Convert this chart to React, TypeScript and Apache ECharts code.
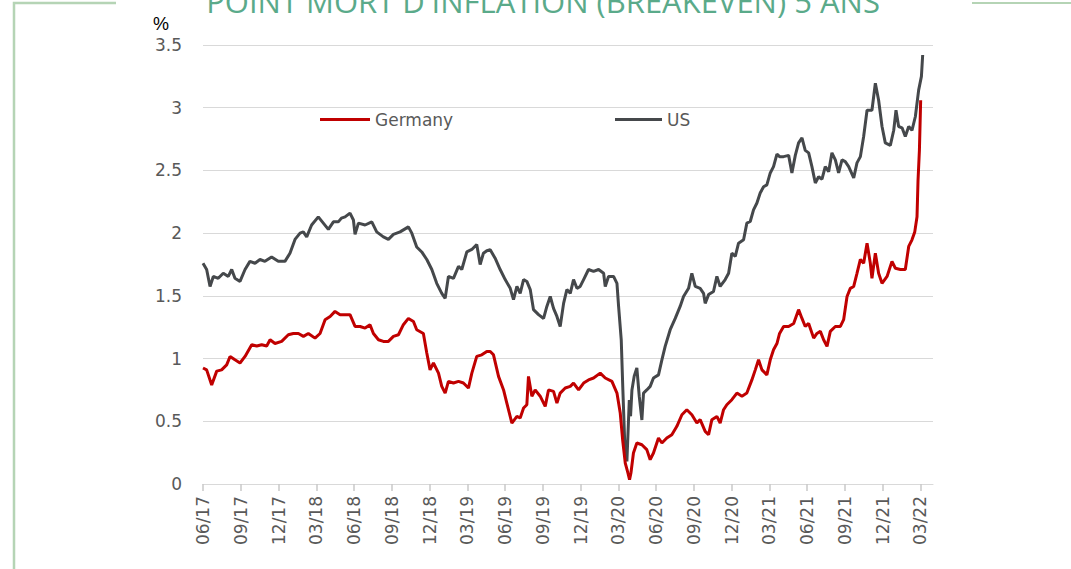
import React, { useEffect, useRef } from "react";
import * as echarts from "echarts";

const titleText = "POINT MORT D'INFLATION (BREAKEVEN) 5 ANS";
const unitLabel = "%";
const seriesNames = ["Germany", "US"];

// x = months since June 2017
const tickLabels = [
  "06/17", "09/17", "12/17", "03/18", "06/18", "09/18", "12/18",
  "03/19", "06/19", "09/19", "12/19", "03/20", "06/20", "09/20",
  "12/20", "03/21", "06/21", "09/21", "12/21", "03/22",
];
const tickMonths = [0, 3, 6, 9, 12, 15, 18, 21, 24, 27, 30, 33, 36, 39, 42, 45, 48, 51, 54, 57];

const usValues: [number, number][] = [
  [0.0, 1.76], [0.29, 1.71], [0.56, 1.575], [0.82, 1.655], [1.21, 1.64], [1.61, 1.68],
  [2.01, 1.655], [2.28, 1.71], [2.54, 1.64], [2.94, 1.615], [3.34, 1.71], [3.73, 1.775],
  [4.13, 1.76], [4.53, 1.79], [4.92, 1.775], [5.45, 1.81], [5.98, 1.775], [6.51, 1.775],
  [6.91, 1.84], [7.31, 1.95], [7.71, 2.0], [7.97, 2.01], [8.24, 1.97], [8.63, 2.065],
  [9.16, 2.13], [9.56, 2.08], [9.96, 2.03], [10.36, 2.09], [10.75, 2.09], [11.0, 2.12],
  [11.29, 2.13], [11.68, 2.16], [11.95, 2.105], [12.08, 1.99], [12.35, 2.08], [12.88, 2.065],
  [13.41, 2.09], [13.8, 2.01], [14.33, 1.97], [14.73, 1.95], [15.13, 1.99], [15.66, 2.01],
  [16.32, 2.05], [16.59, 2.0], [16.98, 1.89], [17.38, 1.85], [17.78, 1.79], [18.18, 1.71],
  [18.57, 1.6], [18.97, 1.52], [19.24, 1.48], [19.5, 1.655], [19.9, 1.64], [20.3, 1.735],
  [20.56, 1.71], [20.96, 1.85], [21.36, 1.87], [21.75, 1.91], [22.02, 1.75], [22.28, 1.84],
  [22.55, 1.86], [22.82, 1.867], [23.21, 1.8], [23.61, 1.71], [24.01, 1.63], [24.41, 1.56],
  [24.67, 1.47], [24.94, 1.575], [25.2, 1.52], [25.47, 1.63], [25.73, 1.615], [26.0, 1.55],
  [26.26, 1.39], [26.66, 1.35], [27.06, 1.32], [27.32, 1.416], [27.59, 1.495], [27.85, 1.4],
  [28.12, 1.336], [28.38, 1.256], [28.65, 1.44], [28.91, 1.55], [29.18, 1.52], [29.44, 1.63],
  [29.71, 1.56], [29.97, 1.575], [30.24, 1.63], [30.63, 1.71], [31.03, 1.695], [31.43, 1.71],
  [31.83, 1.68], [31.96, 1.575], [32.22, 1.655], [32.62, 1.655], [32.89, 1.6], [33.02, 1.416],
  [33.23, 1.15], [33.36, 0.75], [33.5, 0.35], [33.68, 0.18], [33.87, 0.67], [33.97, 0.54],
  [34.08, 0.75], [34.26, 0.86], [34.47, 0.925], [34.66, 0.7], [34.87, 0.51], [35.0, 0.725],
  [35.26, 0.75], [35.53, 0.778], [35.79, 0.845], [36.19, 0.87], [36.46, 0.99], [36.72, 1.097],
  [37.12, 1.23], [37.52, 1.32], [37.91, 1.416], [38.18, 1.495], [38.58, 1.56], [38.84, 1.68],
  [39.11, 1.575], [39.5, 1.56], [39.77, 1.52], [39.9, 1.44], [40.17, 1.51], [40.56, 1.535],
  [40.83, 1.655], [41.09, 1.575], [41.49, 1.63], [41.76, 1.68], [42.02, 1.84], [42.29, 1.815],
  [42.55, 1.92], [42.95, 1.947], [43.21, 2.08], [43.48, 2.093], [43.74, 2.186], [44.01, 2.24],
  [44.27, 2.32], [44.54, 2.37], [44.8, 2.385], [45.07, 2.48], [45.33, 2.53], [45.6, 2.63],
  [45.81, 2.61], [46.13, 2.61], [46.53, 2.62], [46.79, 2.48], [47.06, 2.62], [47.32, 2.72],
  [47.59, 2.76], [47.85, 2.66], [48.12, 2.64], [48.38, 2.53], [48.65, 2.4], [48.91, 2.45],
  [49.18, 2.43], [49.44, 2.53], [49.71, 2.49], [49.97, 2.64], [50.24, 2.584], [50.5, 2.48],
  [50.77, 2.584], [51.03, 2.57], [51.3, 2.53], [51.7, 2.44], [51.96, 2.56], [52.23, 2.61],
  [52.49, 2.77], [52.76, 2.98], [53.15, 2.98], [53.42, 3.195], [53.68, 3.06], [53.95, 2.85],
  [54.21, 2.72], [54.61, 2.7], [54.88, 2.82], [55.06, 2.98], [55.27, 2.85], [55.54, 2.84],
  [55.8, 2.77], [56.07, 2.85], [56.33, 2.82], [56.6, 2.93], [56.86, 3.14], [57.08, 3.25],
  [57.18, 3.42],
];

const germanyValues: [number, number][] = [
  [0.0, 0.925], [0.29, 0.91], [0.69, 0.79], [1.09, 0.9], [1.48, 0.91], [1.88, 0.95],
  [2.15, 1.017], [2.54, 0.99], [2.94, 0.965], [3.34, 1.017], [3.87, 1.11], [4.27, 1.1],
  [4.66, 1.11], [5.06, 1.1], [5.33, 1.15], [5.72, 1.12], [6.25, 1.137], [6.78, 1.19],
  [7.18, 1.2], [7.58, 1.2], [7.98, 1.177], [8.37, 1.2], [8.9, 1.163], [9.3, 1.2],
  [9.7, 1.31], [10.1, 1.336], [10.49, 1.376], [10.89, 1.35], [11.29, 1.35], [11.68, 1.35],
  [12.08, 1.256], [12.48, 1.256], [12.88, 1.243], [13.27, 1.27], [13.54, 1.2], [13.94, 1.15],
  [14.33, 1.137], [14.73, 1.137], [15.13, 1.177], [15.53, 1.19], [15.92, 1.27], [16.32, 1.32],
  [16.72, 1.296], [16.98, 1.23], [17.51, 1.2], [17.78, 1.044], [18.04, 0.91], [18.31, 0.965],
  [18.71, 0.884], [18.97, 0.778], [19.24, 0.725], [19.5, 0.818], [19.9, 0.805], [20.3, 0.818],
  [20.69, 0.805], [21.09, 0.765], [21.36, 0.884], [21.75, 1.017], [22.15, 1.03], [22.55, 1.057],
  [22.82, 1.057], [23.08, 1.03], [23.48, 0.858], [23.88, 0.75], [24.14, 0.645], [24.54, 0.486],
  [24.94, 0.539], [25.2, 0.526], [25.47, 0.606], [25.73, 0.632], [25.86, 0.858], [26.13, 0.7],
  [26.39, 0.75], [26.79, 0.7], [27.19, 0.619], [27.45, 0.75], [27.85, 0.738], [28.12, 0.645],
  [28.38, 0.725], [28.78, 0.765], [29.18, 0.778], [29.44, 0.805], [29.84, 0.75], [30.24, 0.805],
  [30.63, 0.83], [31.03, 0.845], [31.56, 0.884], [31.96, 0.845], [32.49, 0.818], [32.89, 0.725],
  [33.15, 0.566], [33.34, 0.353], [33.55, 0.167], [33.76, 0.088], [33.89, 0.035], [34.0, 0.088],
  [34.2, 0.247], [34.47, 0.327], [34.87, 0.313], [35.26, 0.274], [35.53, 0.194], [35.79, 0.247],
  [36.19, 0.367], [36.46, 0.327], [36.85, 0.367], [37.25, 0.393], [37.65, 0.46], [38.05, 0.552],
  [38.44, 0.592], [38.84, 0.552], [39.24, 0.486], [39.5, 0.513], [39.9, 0.42], [40.17, 0.393],
  [40.43, 0.513], [40.83, 0.539], [41.09, 0.486], [41.36, 0.592], [41.62, 0.632], [42.02, 0.672],
  [42.42, 0.725], [42.82, 0.7], [43.21, 0.725], [43.61, 0.83], [43.88, 0.91], [44.14, 0.99],
  [44.41, 0.91], [44.8, 0.87], [45.07, 0.99], [45.33, 1.07], [45.6, 1.12], [45.81, 1.2],
  [46.13, 1.256], [46.53, 1.256], [46.93, 1.28], [47.32, 1.39], [47.59, 1.32], [47.85, 1.256],
  [48.12, 1.28], [48.52, 1.163], [48.78, 1.2], [49.05, 1.217], [49.31, 1.15], [49.58, 1.097],
  [49.84, 1.217], [50.24, 1.256], [50.64, 1.256], [50.9, 1.31], [51.17, 1.495], [51.43, 1.56],
  [51.7, 1.575], [51.96, 1.68], [52.23, 1.79], [52.49, 1.76], [52.76, 1.92], [53.02, 1.76],
  [53.15, 1.64], [53.42, 1.84], [53.68, 1.68], [53.95, 1.6], [54.35, 1.655], [54.74, 1.775],
  [55.01, 1.72], [55.41, 1.71], [55.8, 1.71], [56.07, 1.894], [56.33, 1.947], [56.55, 2.01],
  [56.73, 2.13], [56.81, 2.42], [56.92, 2.66], [57.02, 3.06],
];

const LABEL_COLOR = "#595959";
const LABEL_FONT = "DejaVu Sans";

export default function App() {
  const ref = useRef<HTMLDivElement>(null);

  useEffect(() => {
    if (!ref.current) return;
    const chart = echarts.init(ref.current, null, { renderer: "svg" });
    chart.setOption({
      animation: false,
      backgroundColor: "#ffffff",
      grid: {
        left: 203,
        right: 138,
        top: 45,
        bottom: 85,
        containLabel: false,
        outerBoundsMode: "none",
      },
      legend: [
        {
          data: [seriesNames[0]],
          left: 320,
          top: 111,
          padding: 0,
          itemWidth: 50,
          itemHeight: 3,
          icon: "rect",
          textStyle: { color: LABEL_COLOR, fontSize: 17, fontFamily: LABEL_FONT },
        },
        {
          data: [seriesNames[1]],
          left: 615,
          top: 111,
          padding: 0,
          itemWidth: 47,
          itemHeight: 3,
          icon: "rect",
          textStyle: { color: LABEL_COLOR, fontSize: 17, fontFamily: LABEL_FONT },
        },
      ],
      xAxis: {
        type: "value",
        min: 0,
        max: 58,
        interval: 3,
        axisLine: { show: true, lineStyle: { color: "#d9d9d9", width: 1 } },
        axisTick: {
          show: true,
          length: 7,
          customValues: tickMonths,
          lineStyle: { color: "#c8c8c8", width: 1.5 },
        },
        axisLabel: {
          customValues: tickMonths,
          rotate: 90,
          margin: 12,
          color: LABEL_COLOR,
          fontSize: 17,
          fontFamily: LABEL_FONT,
          formatter: (v: number) => {
            const i = tickMonths.indexOf(Math.round(v));
            return i >= 0 ? tickLabels[i] : "";
          },
        },
        splitLine: { show: false },
      },
      yAxis: {
        type: "value",
        min: 0,
        max: 3.5,
        interval: 0.5,
        axisLine: { show: false },
        axisTick: { show: false },
        axisLabel: {
          margin: 21,
          color: LABEL_COLOR,
          fontSize: 17,
          fontFamily: LABEL_FONT,
        },
        splitLine: { lineStyle: { color: "#d9d9d9", width: 1 } },
      },
      graphic: [
        {
          type: "polyline",
          shape: { points: [[116, 3], [14, 3], [14, 569]] },
          style: { stroke: "#b5d4b5", lineWidth: 2.5, fill: null },
          silent: true,
        },
        {
          type: "line",
          shape: { x1: 972, y1: 3, x2: 1071, y2: 3 },
          style: { stroke: "#b5d4b5", lineWidth: 2 },
          silent: true,
        },
        {
          type: "text",
          x: 543,
          y: 1,
          style: {
            text: titleText,
            fill: "#5aaa8a",
            font: "31px 'Open Sans'",
            textAlign: "center",
            textVerticalAlign: "middle",
          },
          silent: true,
        },
        {
          type: "text",
          x: 161,
          y: 24,
          style: {
            text: unitLabel,
            fill: "#000000",
            font: "18px 'Liberation Sans'",
            textAlign: "center",
            textVerticalAlign: "middle",
          },
          silent: true,
        },
      ],
      series: [
        {
          name: seriesNames[1],
          type: "line",
          data: usValues,
          showSymbol: false,
          symbol: "none",
          lineStyle: { color: "#45484b", width: 3 },
          itemStyle: { color: "#45484b" },
          z: 2,
        },
        {
          name: seriesNames[0],
          type: "line",
          data: germanyValues,
          showSymbol: false,
          symbol: "none",
          lineStyle: { color: "#c00000", width: 3 },
          itemStyle: { color: "#c00000" },
          z: 3,
        },
      ],
    });
    return () => chart.dispose();
  }, []);

  return (
    <div
      ref={ref}
      style={{ position: "absolute", left: 0, top: 0, width: 1071, height: 569 }}
    />
  );
}
